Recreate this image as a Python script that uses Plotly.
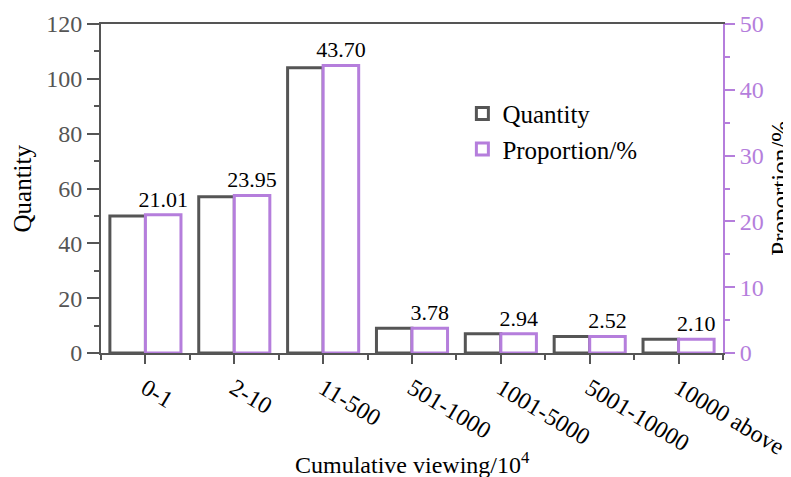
import plotly.graph_objects as go

categories = ["0-1", "2-10", "11-500", "501-1000", "1001-5000", "5001-10000", "10000 above"]
quantity = [50, 57, 104, 9, 7, 6, 5]
proportion = [21.01, 23.95, 43.70, 3.78, 2.94, 2.52, 2.10]
proportion_labels = [f"{v:.2f}" for v in proportion]

GRAY = "#555555"
PURPLE = "#B57EDC"
FONT = "Liberation Serif, Times New Roman, serif"

xpos = list(range(len(categories)))

fig = go.Figure()
fig.add_trace(go.Bar(
    x=xpos, y=quantity, name="Quantity", yaxis="y",
    width=0.4, offset=-0.4,
    marker=dict(color="white", line=dict(color=GRAY, width=3)),
))
fig.add_trace(go.Bar(
    x=xpos, y=proportion, name="Proportion/%", yaxis="y2",
    width=0.4, offset=0.0,
    marker=dict(color="white", line=dict(color=PURPLE, width=3)),
    text=proportion_labels, textposition="outside", constraintext="none",
    textfont=dict(family=FONT, size=22, color="black"),
    cliponaxis=False,
))

# page body has an 8px margin, so the figure margins are reduced by 8px to land the plot area right
fig.update_layout(
    width=791, height=477,
    margin=dict(l=93, r=76, t=16, b=132, autoexpand=False),
    plot_bgcolor="white", paper_bgcolor="white",
    font=dict(family=FONT, size=24, color=GRAY),
    showlegend=True,
    legend=dict(
        x=0.581, y=0.797, xanchor="left", yanchor="top",
        font=dict(family=FONT, size=25, color="black"),
        bgcolor="rgba(0,0,0,0)", tracegroupgap=0,
    ),
    xaxis=dict(
        range=[-0.5, len(categories) - 0.5], automargin=False,
        tickvals=xpos, ticktext=categories, tickangle=31,
        ticks="outside", ticklen=9, tickwidth=2, tickcolor=GRAY,
        minor=dict(ticks="outside", ticklen=5, tickwidth=2, tickcolor=GRAY, tick0=0.5, dtick=1),
        showline=True, linecolor=GRAY, linewidth=2, mirror=True,
        showgrid=False, zeroline=False,
        tickfont=dict(family=FONT, size=24, color="black"),
        ticklabelstandoff=1,
    ),
    yaxis=dict(
        range=[0, 120], dtick=20, tick0=0, automargin=False,
        ticks="outside", ticklen=12, tickwidth=2, tickcolor=GRAY,
        minor=dict(ticks="outside", ticklen=5, tickwidth=2, tickcolor=GRAY, dtick=10),
        showline=True, linecolor=GRAY, linewidth=2,
        showgrid=False, zeroline=False,
        tickfont=dict(family=FONT, size=24, color=GRAY),
    ),
    yaxis2=dict(
        range=[0, 50], dtick=10, tick0=0, automargin=False,
        overlaying="y", side="right",
        ticks="outside", ticklen=10, tickwidth=2, tickcolor=PURPLE,
        minor=dict(ticks="outside", ticklen=5, tickwidth=2, tickcolor=PURPLE, dtick=5),
        showline=True, linecolor=PURPLE, linewidth=2,
        showgrid=False, zeroline=False,
        tickfont=dict(family=FONT, size=24, color=PURPLE),
    ),
    annotations=[
        dict(text="Quantity", xref="paper", yref="paper", x=-0.127, y=0.5,
             xanchor="center", yanchor="middle", textangle=-90, showarrow=False,
             font=dict(family=FONT, size=25, color="black")),
        dict(text="Proportion/%", xref="paper", yref="paper", x=1.092, y=0.5,
             xanchor="center", yanchor="middle", textangle=-90, showarrow=False,
             font=dict(family=FONT, size=25, color="black")),
        dict(text="Cumulative viewing/10<sup>4</sup>", xref="paper", yref="paper", x=0.50, y=-0.334,
             xanchor="center", yanchor="middle", showarrow=False,
             font=dict(family=FONT, size=24, color="black")),
    ],
)

fig.write_html("out.html")
